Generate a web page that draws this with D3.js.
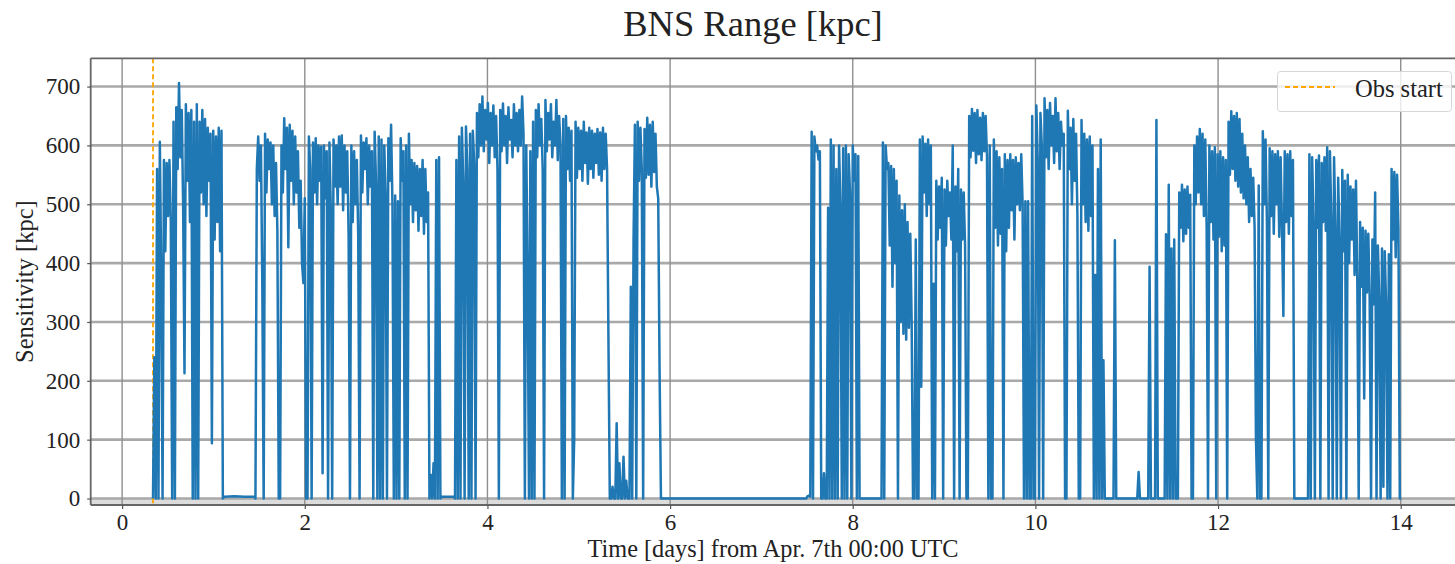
<!DOCTYPE html>
<html>
<head>
<meta charset="utf-8">
<script src="https://cdn.jsdelivr.net/npm/d3@7"></script>
<style>
  body { margin: 0; background: #fff; }
  svg { display: block; }
  text { font-family: "Liberation Serif", "DejaVu Serif", serif; fill: #222; }
</style>
</head>
<body>
<svg id="chart" width="1455" height="564"></svg>
<script>
// BNS range (kpc) sampled every 0.015 day during each lock stretch; 0 = detector unlocked.
const STEP = 0.015;
const OBS_START = 0.338;

const lockA = [
  0, 240, 0, 560, 0, 606, 380, 0, 575, 420,
  570, 480, 575, 470, 0, 640, 0, 665, 560, 706,
  580, 660, 500, 213, 670, 540, 655, 470, 660, 0,
  640, 0, 670, 0, 640, 520, 660, 500, 645, 480,
  630, 540, 620, 94, 625, 440, 615, 470, 630, 420,
  625, 0
];
const idleA = [3, 4, 3, 3];
const lockB = [
  0, 560, 615, 540, 600, 366, 0, 620, 520, 610,
  560, 605, 500, 600, 480, 570, 455, 0, 0, 600,
  520, 646, 560, 630, 427, 635, 540, 625, 500, 615,
  520, 590, 460, 540, 400, 366, 510, 0, 0, 615,
  560, 0, 605, 520, 612, 500, 600, 540, 598, 43,
  600, 510, 590, 0, 605, 490, 0, 610, 530, 600,
  500, 615, 530, 617, 490, 600, 520, 590, 447, 0,
  600, 470, 590, 500, 575, 450, 0, 617, 520, 605,
  560, 612, 500, 600, 530, 590, 0, 623, 540, 0,
  615, 0, 610, 0, 600, 520, 0, 612, 540, 635,
  500, 0, 515, 0, 505, 0, 612, 540, 590, 0,
  600, 0, 620, 500, 575, 470, 570, 490, 565, 455,
  560, 480, 575, 450, 560, 470, 520, 0, 40, 0,
  60, 0, 575, 0, 580, 0, 3
];
const lockC = [
  3, 0, 575, 0, 615, 0, 630, 540, 0, 632,
  560, 0, 620, 0, 625, 570, 0, 655, 580, 670,
  600, 683, 590, 660, 610, 672, 570, 655, 600, 668,
  580, 650, 560, 0, 660, 590, 671, 600, 650, 570,
  665, 610, 643, 580, 670, 600, 655, 590, 660, 600,
  683, 620, 0, 600, 385, 0, 590, 0, 640, 0,
  660, 580, 670, 600, 645, 560, 0, 677, 590, 655,
  610, 670, 580, 640, 600, 677, 575, 650, 600, 0,
  645, 0, 650, 560, 630, 540, 625, 0, 100, 640,
  545, 630, 560, 625, 540, 640, 570, 622, 535, 630,
  560, 625, 545, 620, 570, 628, 550, 622, 540, 630,
  560, 620, 560, 270, 0
];
const blipsC = [0, 20, 0, 0, 128, 0, 60, 0, 0, 71, 0, 30, 0, 0];
const lockD = [
  0, 360, 0, 440, 635, 0, 640, 540, 630, 560,
  0, 628, 545, 647, 550, 635, 530, 640, 555, 620,
  530, 510, 215, 0
];
const lockE = [
  0, 4, 5, 3, 623, 0, 615, 590, 600, 576,
  590, 0, 0, 43, 0, 0, 494, 0, 610, 0,
  600, 0, 560, 0, 600, 500, 0, 595, 0, 600,
  0, 585, 520, 0, 600, 540, 585, 0, 582, 0
];
const lockF = [
  0, 605, 0, 600, 560, 570, 430, 565, 360, 560,
  400, 540, 0, 515, 300, 490, 280, 500, 270, 470,
  290, 450, 300, 0, 0, 440, 0, 0, 610, 190,
  615, 520, 603, 480, 610, 500, 600, 0, 365, 0,
  540, 440, 530, 460, 545, 0, 525, 430, 540, 480,
  520, 440, 600, 0, 530, 420, 560, 0, 525, 440,
  520, 430, 0, 0, 650, 580, 662, 591, 655, 570,
  660, 585, 647, 575, 655, 590, 650, 580, 0, 600,
  0, 0, 610, 460, 590, 430, 580, 450, 560, 0,
  585, 420, 575, 460, 585, 490, 575, 440, 580, 500,
  570, 490, 585, 500, 0, 505, 0, 505, 0, 0,
  650, 0, 0, 668, 580, 0, 655, 600, 0, 680,
  580, 660, 560, 672, 600, 650, 570, 680, 590, 655,
  560, 640, 600, 620, 0, 0, 659, 560, 630, 500,
  645, 540, 620, 480, 0, 0, 643, 500, 620, 470,
  610, 455, 615, 480, 600, 0, 380, 0, 560, 0,
  610, 0, 235, 0, 0
];
const blipF = [0, 439, 0];
const blipsG = [
  0, 0, 45, 0, 0, 0, 0, 0, 0, 0,
  394, 0, 0, 0, 0, 643, 0, 0, 0, 0,
  0, 0, 449, 0, 533, 0, 425, 0, 440, 0
];
const lockH = [
  0, 520, 460, 533, 437, 525, 450, 530, 460, 516,
  0, 0, 600, 500, 615, 520, 628, 500, 620, 480,
  610, 460, 0, 600, 470, 590, 440, 597, 0, 585,
  445, 590, 420, 580, 430, 575, 0, 640, 550, 658,
  560, 650, 540, 655, 530, 645, 520, 620, 510, 600,
  500, 580, 470, 560, 480, 545, 460, 100, 0, 532,
  0, 0, 624, 500, 610, 470, 0, 595, 480, 590,
  450, 585, 500, 590, 445, 580, 460, 310, 590, 470,
  585, 450, 590, 480, 575, 0
];
const lockI = [
  0, 585, 0, 580, 470, 0, 575, 460, 583, 0,
  570, 470, 580, 455, 597, 0, 590, 475, 0, 580,
  460, 0, 545, 440, 0, 558, 420, 540, 0, 550,
  400, 530, 440, 525, 380, 540, 366, 0, 470, 360,
  460, 170, 455, 350, 450, 340, 0, 440, 330, 520,
  0, 430, 340, 0, 425, 20, 420, 330, 0, 415,
  0, 560, 440, 555, 410, 550, 460, 0, 0
];

// start day and sampling interval of each stretch, in time order
const stretches = [
  { start: OBS_START, step: STEP, values: lockA },
  { start: 1.118, step: 0.112, values: idleA },
  { start: 1.46, step: STEP, values: lockB },
  { start: 3.63, step: STEP, values: lockC },
  { start: 5.355, step: STEP, values: blipsC },
  { start: 5.555, step: STEP, values: lockD },
  { start: 7.49, step: STEP, values: lockE },
  { start: 8.315, step: STEP, values: lockF },
  { start: 10.855, step: STEP, values: blipF },
  { start: 11.10, step: STEP, values: blipsG },
  { start: 11.56, step: STEP, values: lockH },
  { start: 12.985, step: STEP, values: lockI }
];

const xTicks = [0, 2, 4, 6, 8, 10, 12, 14];
const yTicks = [0, 100, 200, 300, 400, 500, 600, 700];

(function draw() {
  const series = [];
  stretches.forEach(s => s.values.forEach((v, i) => series.push([s.start + i * s.step, v])));

  const svg = d3.select("#chart");
  const plotL = 90.7, plotR = 1461, plotT = 58.3, plotB = 505;

  const x = d3.scaleLinear().domain([-0.344, 14.66]).range([plotL, plotR]);
  const y = d3.scaleLinear().domain([-11, 748]).range([plotB, plotT]);

  svg.append("defs").append("clipPath").attr("id", "plot-area")
    .append("rect").attr("x", plotL).attr("y", plotT)
    .attr("width", plotR - plotL).attr("height", plotB - plotT);

  // grid
  const grid = svg.append("g");
  grid.append("rect").attr("x", plotL).attr("y", y(0)).attr("width", plotR - plotL)
    .attr("height", plotB - y(0)).attr("fill", "#dcdcdc");
  grid.selectAll("line.hgrid").data(yTicks).join("line").attr("class", "hgrid")
    .attr("x1", plotL).attr("x2", plotR)
    .attr("y1", d => y(d)).attr("y2", d => y(d))
    .attr("stroke", "#a9a9a9").attr("stroke-width", 2.6);
  grid.selectAll("line.vgrid").data(xTicks).join("line").attr("class", "vgrid")
    .attr("x1", d => x(d)).attr("x2", d => x(d))
    .attr("y1", plotT).attr("y2", plotB)
    .attr("stroke", "#8f8f8f").attr("stroke-width", 1.4);

  // observation start marker
  svg.append("line")
    .attr("x1", x(OBS_START)).attr("x2", x(OBS_START))
    .attr("y1", plotT).attr("y2", plotB)
    .attr("stroke", "#ffa500").attr("stroke-width", 1.8)
    .attr("stroke-dasharray", "5,3");

  // range trace
  svg.append("path")
    .datum(series)
    .attr("clip-path", "url(#plot-area)")
    .attr("fill", "none")
    .attr("stroke", "#1f77b4")
    .attr("stroke-width", 2.5)
    .attr("stroke-linejoin", "round")
    .attr("d", d3.line().x(d => x(d[0])).y(d => y(d[1])));

  // spines
  const spine = svg.append("g").attr("stroke", "#666").attr("stroke-width", 1.8);
  spine.append("line").attr("x1", plotL).attr("x2", plotL).attr("y1", plotT).attr("y2", plotB);
  spine.append("line").attr("x1", plotL).attr("x2", plotR).attr("y1", plotT).attr("y2", plotT);
  spine.append("line").attr("x1", plotL).attr("x2", plotR).attr("y1", plotB).attr("y2", plotB);

  // axes
  const xAxis = svg.append("g").attr("transform", `translate(0,${plotB})`)
    .call(d3.axisBottom(x).tickValues(xTicks).tickSize(4).tickPadding(5).tickFormat(d3.format("d")));
  const yAxis = svg.append("g").attr("transform", `translate(${plotL},0)`)
    .call(d3.axisLeft(y).tickValues(yTicks).tickSize(3.5).tickPadding(7).tickFormat(d3.format("d")));
  [xAxis, yAxis].forEach(a => {
    a.select(".domain").remove();
    a.selectAll(".tick line").attr("stroke", "#555").attr("stroke-width", 1.2);
    a.selectAll(".tick text").attr("font-family", "Liberation Serif").attr("font-size", 23).attr("fill", "#222");
  });

  // titles
  svg.append("text").attr("x", 753).attr("y", 36).attr("text-anchor", "middle")
    .attr("font-size", 36.5).text("BNS Range [kpc]");
  svg.append("text").attr("x", 773).attr("y", 557).attr("text-anchor", "middle")
    .attr("font-size", 24.3).text("Time [days] from Apr. 7th 00:00 UTC");
  svg.append("text").attr("transform", `translate(33,${(plotT + plotB) / 2}) rotate(-90)`)
    .attr("text-anchor", "middle").attr("font-size", 24.5).text("Sensitivity [kpc]");

  // legend
  const legend = svg.append("g");
  legend.append("rect").attr("x", 1277.5).attr("y", 71.5).attr("width", 174).attr("height", 40)
    .attr("rx", 3).attr("fill", "#fff").attr("fill-opacity", 0.8)
    .attr("stroke", "#d6d6d6").attr("stroke-width", 1);
  legend.append("line").attr("x1", 1285).attr("x2", 1335).attr("y1", 87).attr("y2", 87)
    .attr("stroke", "#ffa500").attr("stroke-width", 1.8).attr("stroke-dasharray", "5,3");
  legend.append("text").attr("x", 1355).attr("y", 97).attr("font-size", 24.5).text("Obs start");
})();
</script>
</body>
</html>
